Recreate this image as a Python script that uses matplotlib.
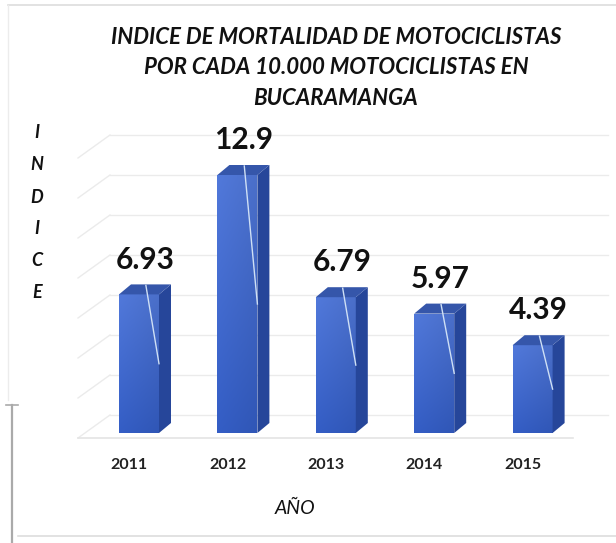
import numpy as np
import matplotlib
matplotlib.use("Agg")
import matplotlib.pyplot as plt
from matplotlib.patches import Polygon
from matplotlib.lines import Line2D

# ---------------- data ----------------
years = ["2011", "2012", "2013", "2014", "2015"]
values = [6.93, 12.9, 6.79, 5.97, 4.39]
value_labels = ["6.93", "12.9", "6.79", "5.97", "4.39"]
grid_values = [0, 2, 4, 6, 8, 10, 12, 14]
title = "INDICE DE MORTALIDAD DE MOTOCICLISTAS\nPOR CADA 10.000 MOTOCICLISTAS EN\nBUCARAMANGA"
ylabel_text = "INDICE"
xlabel_text = "AÑO"

# ---------------- layout / style ----------------
W, H = 616, 543
PX_CAT = 98.4      # pixels between categories
CAT0 = 139.0       # pixel x of first category
BASE = 433.0       # pixel y of value 0 (front)
PX_UNIT = 20.0     # pixels per unit

FONT = ["Lato", "DejaVu Sans"]
plt.rcParams["font.family"] = FONT

fig = plt.figure(figsize=(W / 100, H / 100), dpi=100)
ax = fig.add_axes([0, 0, 1, 1])
ax.set_xlim(-CAT0 / PX_CAT, (W - CAT0) / PX_CAT)
ax.set_ylim((BASE - H) / PX_UNIT, BASE / PX_UNIT)
ax.axis("off")

bar_w = 40 / PX_CAT
dx = 12 / PX_CAT
dy = 10 / PX_UNIT
wall_shift = 0.9          # back wall offset (units)
wall_left = -0.295
wall_right = 4.77
floor_dx = -0.325
floor_dy = -1.15
grid_col = "#ebebeb"

# back wall gridlines + left floor/side diagonals
for g in grid_values:
    yb = g + wall_shift
    ax.plot([wall_left, wall_right], [yb, yb], color=grid_col, lw=1.0, zorder=1)
    ax.plot([wall_left, wall_left + floor_dx], [yb, yb + floor_dy],
            color=grid_col, lw=1.0, zorder=1)
# front floor edge
ax.plot([wall_left + floor_dx, 4.41], [wall_shift + floor_dy] * 2,
        color="#e4e4e4", lw=1.2, zorder=1)

x = np.arange(len(years))
bars = ax.bar(x, values, width=bar_w, color="#3f66c6", zorder=3, linewidth=0)

# gradient for front faces
grad = np.zeros((64, 32, 3))
top_c = np.array([78, 116, 210]) / 255
bot_c = np.array([50, 90, 190]) / 255
for i in range(64):
    t = i / 63
    row = top_c * (1 - t) + bot_c * t
    for j in range(32):
        s = j / 31
        grad[i, j] = np.clip(row * (1.04 - 0.08 * s), 0, 1)

for k, (xi, v, b) in enumerate(zip(x, values, bars)):
    l, r = xi - bar_w / 2, xi + bar_w / 2
    im = ax.imshow(grad, extent=(l, r, 0, v), aspect="auto", zorder=3.1,
                   interpolation="bilinear")
    im.set_clip_path(b)
    side = Polygon([(r, 0), (r + dx, dy), (r + dx, v + dy), (r, v)],
                   closed=True, facecolor="#26469a", edgecolor="none", zorder=3.2)
    top = Polygon([(l, v), (r, v), (r + dx, v + dy), (l + dx, v + dy)],
                  closed=True, facecolor="#3556aa", edgecolor="none", zorder=3.3)
    ax.add_patch(side)
    ax.add_patch(top)
    # leader line
    ax.plot([xi + 0.07, r], [v + 0.45, v / 2], color="#cfe0f5", lw=1.0, zorder=4)
    # value label
    ax.annotate(value_labels[k], (xi + dx / 2, v),
                xytext=(0, 25), textcoords="offset points",
                ha="center", va="center", fontsize=21.5, fontweight="bold",
                color="#111111", zorder=5)
    # category label
    ax.text(xi - 0.1, -1.6, years[k], ha="center", va="center",
            fontsize=11.5, fontweight="bold", color="#222222")

# title
fig.text(336 / W, 1 - 68 / H, title, ha="center", va="center",
         fontsize=16, fontweight="bold", style="italic", color="#111111",
         linespacing=1.58)

# vertical stacked y label
for k, ch in enumerate(ylabel_text):
    fig.text(37 / W, 1 - (133 + 32 * k) / H, ch, ha="center", va="center",
             fontsize=13, fontweight="bold", style="italic", color="#111111")

# x label
fig.text(295 / W, 1 - 508 / H, xlabel_text, ha="center", va="center",
         fontsize=14, style="italic", color="#111111")

# frame decorations
def fline(xs, ys, **kw):
    fig.add_artist(Line2D([p / W for p in xs], [1 - p / H for p in ys], **kw))

fline([8, 616], [5, 5], color="#dddddd", lw=1.2)
fline([8, 8], [5, 400], color="#ececec", lw=1.0)
fline([12, 12], [405, 543], color="#aaaaaa", lw=1.6)
fline([6, 18], [405, 405], color="#aaaaaa", lw=1.2)
fline([18, 616], [536, 536], color="#dddddd", lw=1.2)

fig.savefig("out.png", dpi=100, facecolor="white")
